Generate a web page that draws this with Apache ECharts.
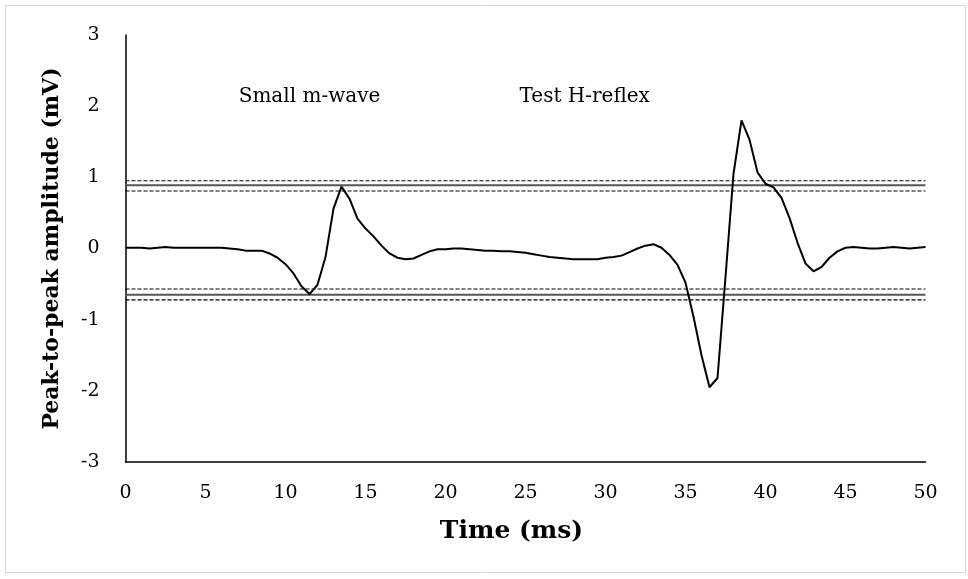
<!DOCTYPE html>
<html>
<head>
<meta charset="utf-8">
<script src="https://cdn.jsdelivr.net/npm/echarts@6/dist/echarts.min.js"></script>
<style>
  html, body { margin: 0; padding: 0; background: #fff; }
  #chart { width: 968px; height: 579px; }
</style>
</head>
<body>
<div id="chart"></div>
<script>
// time (ms), sampled every 0.5 ms
const times = [0, 0.5, 1, 1.5, 2, 2.5, 3, 3.5, 4, 4.5, 5, 5.5, 6, 6.5, 7, 7.5, 8, 8.5, 9, 9.5,
  10, 10.5, 11, 11.5, 12, 12.5, 13, 13.5, 14, 14.5, 15, 15.5, 16, 16.5, 17, 17.5, 18, 18.5, 19, 19.5,
  20, 20.5, 21, 21.5, 22, 22.5, 23, 23.5, 24, 24.5, 25, 25.5, 26, 26.5, 27, 27.5, 28, 28.5, 29, 29.5,
  30, 30.5, 31, 31.5, 32, 32.5, 33, 33.5, 34, 34.5, 35, 35.5, 36, 36.5, 37, 37.5, 38, 38.5, 39, 39.5,
  40, 40.5, 41, 41.5, 42, 42.5, 43, 43.5, 44, 44.5, 45, 45.5, 46, 46.5, 47, 47.5, 48, 48.5, 49, 49.5, 50];
// amplitude (mV)
const amplitude = [0.01, 0.01, 0.01, 0.0, 0.01, 0.02, 0.01, 0.01, 0.01, 0.01, 0.01, 0.01, 0.01, 0.0, -0.01, -0.03, -0.03, -0.03, -0.07, -0.13,
  -0.22, -0.35, -0.53, -0.64, -0.51, -0.12, 0.56, 0.87, 0.70, 0.42, 0.28, 0.17, 0.04, -0.07, -0.13, -0.15, -0.14, -0.09, -0.04, -0.01,
  -0.01, 0.0, 0.0, -0.01, -0.02, -0.03, -0.03, -0.04, -0.04, -0.05, -0.06, -0.08, -0.10, -0.12, -0.13, -0.14, -0.15, -0.15, -0.15, -0.15,
  -0.13, -0.12, -0.10, -0.05, 0.0, 0.04, 0.06, 0.01, -0.09, -0.23, -0.48, -0.96, -1.50, -1.95, -1.82, -0.40, 1.05, 1.80, 1.53, 1.07,
  0.91, 0.86, 0.71, 0.43, 0.08, -0.21, -0.32, -0.26, -0.13, -0.04, 0.01, 0.02, 0.01, 0.0, 0.0, 0.01, 0.02, 0.01, 0.0, 0.01, 0.02];
// threshold lines: mean (solid) and +/- SD (dashed)
const upperMean = 0.888;
const upperBand = [0.952, 0.808];
const lowerMean = -0.649;
const lowerBand = [-0.569, -0.723];
const xTicks = [0, 50];
const labels = [
  { text: 'Small m-wave', t: 11.5, v: 2.13 },
  { text: 'Test H-reflex', t: 28.7, v: 2.13 }
];

const chart = echarts.init(document.getElementById('chart'));
const font = 'DejaVu Serif';

function flat(v, dashed) {
  return {
    type: 'line',
    silent: true,
    symbol: 'none',
    data: [[xTicks[0], v], [xTicks[1], v]],
    lineStyle: dashed
      ? { color: '#000', width: 1.2, type: [4, 2] }
      : { color: '#555', width: 2 },
    z: 1
  };
}

const option = {
  animation: false,
  backgroundColor: '#fff',
  graphic: [{
    type: 'rect',
    shape: { x: 5.5, y: 5.5, width: 960, height: 567 },
    style: { fill: 'none', stroke: '#d9d9d9', lineWidth: 1 },
    silent: true
  }],
  grid: { left: 125.5, right: 42.5, top: 35, bottom: 117 },
  xAxis: {
    type: 'value',
    min: 0, max: 50, interval: 5,
    name: 'Time (ms)',
    nameLocation: 'middle',
    nameGap: 57,
    nameTextStyle: { fontFamily: font, fontWeight: 'bold', fontSize: 25, color: '#000', padding: [0, 28, 0, 0] },
    axisLine: { onZero: false, lineStyle: { color: '#000', width: 1.5 } },
    axisTick: { show: false },
    splitLine: { show: false },
    axisLabel: { fontFamily: font, fontSize: 19, color: '#000', margin: 22 }
  },
  yAxis: {
    type: 'value',
    min: -3, max: 3, interval: 1,
    name: 'Peak-to-peak amplitude (mV)',
    nameLocation: 'middle',
    nameGap: 62,
    nameTextStyle: { fontFamily: font, fontWeight: 'bold', fontSize: 22, color: '#000' },
    axisLine: { show: true, onZero: false, lineStyle: { color: '#000', width: 1.5 } },
    axisTick: { show: false },
    splitLine: { show: false },
    axisLabel: { fontFamily: font, fontSize: 19, color: '#000', margin: 26 }
  },
  series: [
    flat(upperBand[0], true),
    flat(upperMean, false),
    flat(upperBand[1], true),
    flat(lowerBand[0], true),
    flat(lowerMean, false),
    flat(lowerBand[1], true),
    {
      type: 'line',
      symbol: 'none',
      data: times.map((t, i) => [t, amplitude[i]]),
      lineStyle: { color: '#000', width: 2 },
      z: 3
    },
    {
      type: 'scatter',
      symbolSize: 0,
      silent: true,
      itemStyle: { opacity: 1 },
      data: labels.map(l => ({ value: [l.t, l.v], name: l.text })),
      label: {
        show: true,
        position: 'inside',
        formatter: p => p.name,
        fontFamily: font,
        fontSize: 20,
        color: '#000'
      }
    }
  ]
};
chart.setOption(option);
</script>
</body>
</html>
